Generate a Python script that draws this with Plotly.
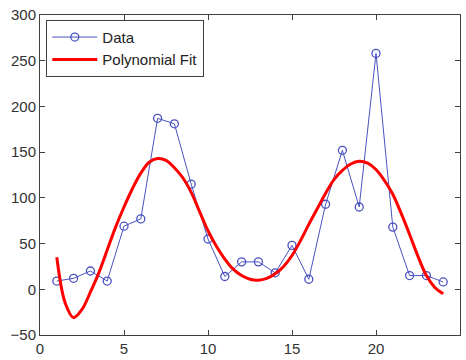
import plotly.graph_objects as go

# Data series
data_x = list(range(1, 25))
data_y = [9, 12, 20, 9, 69, 77, 187, 181, 115, 55, 14, 30,
          30, 18, 48, 11, 93, 152, 90, 258, 68, 15, 15, 8]

# Polynomial fit curve
fit_x = [1.0, 1.5, 2.0, 2.5, 3.0, 3.5, 4.0, 4.5, 5.0, 5.5, 6.0, 6.5, 7.0, 7.5,
         8.0, 8.5, 9.0, 9.5, 10.0, 10.5, 11.0, 11.5, 12.0, 12.5, 13.0, 13.5,
         14.0, 14.5, 15.0, 15.5, 16.0, 16.5, 17.0, 17.5, 18.0, 18.5, 19.0,
         19.5, 20.0, 20.5, 21.0, 21.5, 22.0, 22.5, 23.0, 23.5, 24.0]
fit_y = [35, -15, -31, -22, -3, 18, 43, 68, 90, 110, 127, 139, 143, 141,
         133, 122, 106, 85, 64, 47, 33, 22, 15, 11, 10, 12,
         17, 25, 37, 53, 71, 88, 105, 120, 130, 137, 140,
         138, 131, 119, 104, 83, 60, 36, 15, 2, -5]

x_ticks = [0, 5, 10, 15, 20, 25]
y_ticks = [-50, 0, 50, 100, 150, 200, 250, 300]

fig = go.Figure()
fig.add_trace(go.Scatter(
    x=data_x, y=data_y, mode="lines+markers", name="Data",
    line=dict(color="#4a52c0", width=1),
    marker=dict(symbol="circle-open", size=8, color="#4a52c0", line=dict(width=1.3)),
))
fig.add_trace(go.Scatter(
    x=fit_x, y=fit_y, mode="lines", name="Polynomial Fit",
    line=dict(color="#ff0000", width=3, shape="spline"),
))

axis_common = dict(
    showgrid=False, zeroline=False, showline=True, mirror="ticks",
    linecolor="#404040", linewidth=1, ticks="inside", ticklen=5,
    tickcolor="#404040", tickfont=dict(family="Liberation Sans, Arial", size=15, color="#333333"),
)
fig.update_xaxes(range=[0, 25], tickvals=x_ticks, **axis_common)
fig.update_yaxes(range=[-50, 300], tickvals=y_ticks, **axis_common)

fig.update_layout(
    width=466, height=360,
    margin=dict(l=40, r=6, t=15, b=25, autoexpand=False),
    plot_bgcolor="white", paper_bgcolor="white",
    font=dict(family="Liberation Sans, Arial", size=15, color="#222222"),
    legend=dict(x=0.015, y=0.985, xanchor="left", yanchor="top",
                bordercolor="#404040", borderwidth=1, bgcolor="white",
                font=dict(size=15), itemwidth=45, tracegroupgap=0),
    showlegend=True,
)

fig.write_html("out.html", config={"displayModeBar": False},
               post_script="document.body.style.margin='0';")
